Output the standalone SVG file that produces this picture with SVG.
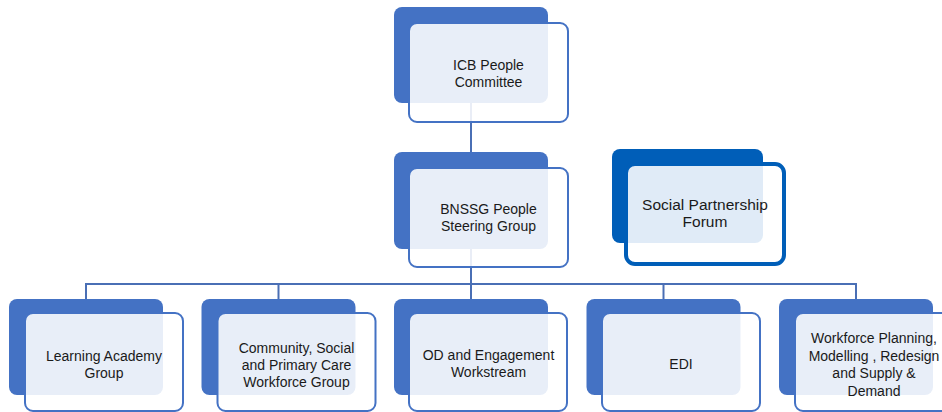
<svg xmlns="http://www.w3.org/2000/svg" width="942" height="412" viewBox="0 0 942 412">
  <style>
    .back { fill: #4472c4; }
    .front { fill: #ffffff; fill-opacity: 0.88; stroke: #4472c4; stroke-width: 2; }
    .back-nhs { fill: #005eb8; }
    .front-nhs { fill: #ffffff; fill-opacity: 0.88; stroke: #005eb8; stroke-width: 4; }
    .link { fill: none; stroke: #4a6fb5; stroke-width: 2; }
    .label { font-family: "Liberation Sans", Arial, sans-serif; font-size: 14px; fill: #1a1a1a; text-anchor: middle; }
    .label-arial { font-family: "Liberation Sans", Arial, sans-serif; font-size: 15.5px; fill: #1a1a1a; text-anchor: middle; }
  </style>
  <rect width="942" height="412" fill="#ffffff"/>

  <!-- connectors -->
  <g id="connectors">
    <line class="link" x1="471" y1="103" x2="471" y2="152"/>
    <line class="link" x1="471" y1="249" x2="471" y2="284"/>
    <line class="link" x1="85" y1="284" x2="857" y2="284"/>
    <line class="link" x1="86" y1="283" x2="86" y2="299"/>
    <line class="link" x1="278.5" y1="283" x2="278.5" y2="299"/>
    <line class="link" x1="471" y1="283" x2="471" y2="299"/>
    <line class="link" x1="663.5" y1="283" x2="663.5" y2="299"/>
    <line class="link" x1="856" y1="283" x2="856" y2="299"/>
  </g>

  <g id="icb-people-committee">
    <rect class="back" x="394" y="7" width="154" height="96" rx="8"/>
    <rect class="front" x="409" y="23" width="159" height="99" rx="8"/>
    <text class="label" x="488.5" y="69.5">ICB People</text>
    <text class="label" x="488.5" y="86.5">Committee</text>
  </g>

  <g id="bnssg-people-steering-group">
    <rect class="back" x="394" y="152" width="154" height="97" rx="8"/>
    <rect class="front" x="409" y="168" width="159" height="99" rx="8"/>
    <text class="label" x="488.5" y="214">BNSSG People</text>
    <text class="label" x="488.5" y="231">Steering Group</text>
  </g>

  <g id="social-partnership-forum">
    <rect class="back-nhs" x="612" y="149" width="151" height="94" rx="8"/>
    <rect class="front-nhs" x="626" y="164" width="158" height="100" rx="9"/>
    <text class="label-arial" x="705" y="210">Social Partnership</text>
    <text class="label-arial" x="705" y="227">Forum</text>
  </g>

  <g id="learning-academy-group">
    <rect class="back" x="9" y="299" width="154" height="96" rx="8"/>
    <rect class="front" x="25" y="313" width="158" height="98" rx="8"/>
    <text class="label" x="104" y="361">Learning Academy</text>
    <text class="label" x="104" y="378">Group</text>
  </g>

  <g id="community-social-primary-care">
    <rect class="back" x="201.5" y="299" width="154" height="96" rx="8"/>
    <rect class="front" x="217.5" y="313" width="158" height="98" rx="8"/>
    <text class="label" x="296.5" y="352.5">Community, Social</text>
    <text class="label" x="296.5" y="369.5">and Primary Care</text>
    <text class="label" x="296.5" y="386.5">Workforce Group</text>
  </g>

  <g id="od-engagement-workstream">
    <rect class="back" x="394" y="299" width="154" height="96" rx="8"/>
    <rect class="front" x="409" y="313" width="158" height="98" rx="8"/>
    <text class="label" x="488.5" y="360">OD and Engagement</text>
    <text class="label" x="488.5" y="377">Workstream</text>
  </g>

  <g id="edi">
    <rect class="back" x="586.5" y="299" width="154" height="96" rx="8"/>
    <rect class="front" x="602" y="313" width="158" height="98" rx="8"/>
    <text class="label" x="681" y="369">EDI</text>
  </g>

  <g id="workforce-planning">
    <rect class="back" x="779" y="299" width="154" height="96" rx="8"/>
    <rect class="front" x="795" y="313" width="158" height="98" rx="8"/>
    <text class="label" x="874" y="343">Workforce Planning,</text>
    <text class="label" x="874" y="360.5">Modelling , Redesign</text>
    <text class="label" x="874" y="378">and Supply &amp;</text>
    <text class="label" x="874" y="395.5">Demand</text>
  </g>
</svg>
